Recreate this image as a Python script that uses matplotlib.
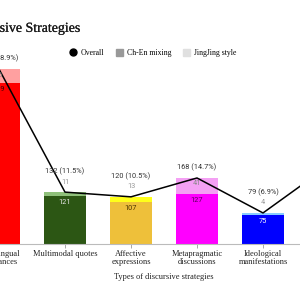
import matplotlib
matplotlib.use("Agg")
import matplotlib.pyplot as plt
import matplotlib.patheffects as pe
from matplotlib.lines import Line2D
from matplotlib.patches import Patch
import numpy as np

# data
categories = ["Translingual\nresonances", "Multimodal quotes", "Affective\nexpressions",
              "Metapragmatic\ndiscussions", "Ideological\nmanifestations", "Other\nstrategies"]
ch_en_mixing = [409, 121, 107, 127, 75, 180]
jingjing_style = [36, 11, 13, 41, 4, 20]
overall = [445, 132, 120, 168, 79, 200]
percent = [38.9, 11.5, 10.5, 14.7, 6.9, 17.5]

# colours (dark = Ch-En mixing, light = JingJing style)
dark_colors = ["#ff0000", "#2c5614", "#eec03a", "#ff00ff", "#0000ff", "#ff7f00"]
light_colors = ["#ffa0a0", "#8fc07a", "#ffff1a", "#f4a0f4", "#88ccff", "#ffcc88"]
inner_text = ["#400000", "#e8e8e8", "#4a3400", "#5a005a", "#ffffff", "#333333"]

serif = "Liberation Serif"
sans = "Roboto"

fig = plt.figure(figsize=(3, 3), dpi=100)
# axes deliberately wider than the figure: the picture is a crop of a bigger chart
ax = fig.add_axes([-34 / 300, 56 / 300, 396 / 300, 196.5 / 300])

x = np.arange(len(categories))
w = 0.65
ax.bar(x, ch_en_mixing, w, color=dark_colors, zorder=2)
ax.bar(x, jingjing_style, w, bottom=ch_en_mixing, color=light_colors, zorder=2)
ax.plot(x, overall, color="black", lw=1.1, zorder=3)

ax.set_xlim(-0.5, len(categories) - 0.5)
ax.set_ylim(0, 500)

px = 500 / 196.5  # data units per pixel
for i in range(len(categories)):
    top_dark = ch_en_mixing[i]
    top = overall[i]
    ax.text(x[i], top_dark - 6.5 * px, str(ch_en_mixing[i]), ha="center", va="center",
            fontsize=5.3, family=sans, color=inner_text[i], zorder=4)
    if jingjing_style[i] * 1 / px > 12:
        ax.text(x[i], top - 6 * px, str(jingjing_style[i]), ha="center", va="center",
                fontsize=5.3, family=sans, color="#888888", zorder=4)
        ty = top + 11 * px
    else:
        ax.text(x[i], top + 10 * px, str(jingjing_style[i]), ha="center", va="center",
                fontsize=5.3, family=sans, color="#999999", zorder=4)
        ty = top + 20.5 * px
    ax.text(x[i], ty, "%d (%.1f%%)" % (overall[i], percent[i]), ha="center", va="center",
            fontsize=5.3, family=sans, color="#333333", zorder=4)

for s in ["top", "right", "left"]:
    ax.spines[s].set_visible(False)
ax.spines["bottom"].set_color("#bbbbbb")
ax.spines["bottom"].set_linewidth(0.8)
ax.set_yticks([])
ax.set_xticks(x)
ax.set_xticklabels(categories, family=serif, fontsize=6, color="#222222", linespacing=0.95)
ax.tick_params(axis="x", length=3, color="#999999", width=0.6, pad=1.5)
ax.set_xlabel("Types of discursive strategies", family=serif, fontsize=6, color="#222222")
ax.xaxis.set_label_coords((164 + 34) / 396, -29 / 196.5)

fig.text(80 / 300, 1 - 28 / 300, "Distribution of Discursive Strategies", ha="right",
         va="center", family=serif, fontsize=10, color="#1a1a1a",
         path_effects=[pe.withStroke(linewidth=0.15, foreground="#1a1a1a")])

handles = [Line2D([], [], marker="o", color="black", lw=0, markersize=5),
           Patch(color="#999999"), Patch(color="#e0e0e0")]
fig.legend(handles, ["Overall", "Ch-En mixing", "JingJing style"], loc="center",
           bbox_to_anchor=(153 / 300, 1 - 53 / 300), ncol=3, frameon=False,
           prop={"family": serif, "size": 5.6}, handlelength=0.9, handleheight=0.9,
           handletextpad=0.5, columnspacing=1.5)

fig.savefig("out.png", dpi=100)
